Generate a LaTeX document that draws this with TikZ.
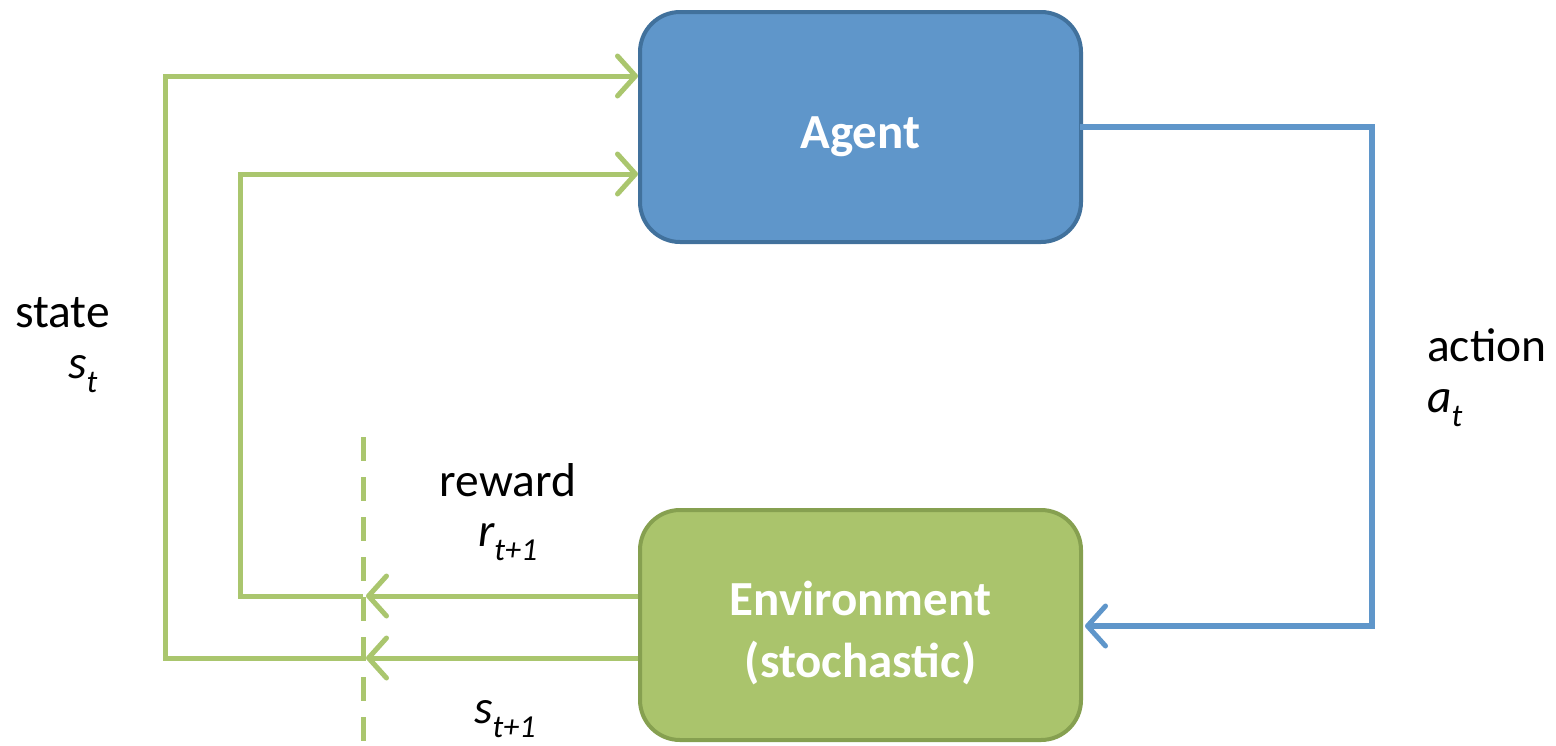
\documentclass[tikz,border=0pt]{standalone}
\usepackage{fontspec}
\setmainfont{Carlito}
\usetikzlibrary{arrows.meta}
\definecolor{agentfill}{HTML}{5F96CA}
\definecolor{agentdraw}{HTML}{41719C}
\definecolor{envfill}{HTML}{AAC46C}
\definecolor{envdraw}{HTML}{86A050}
\definecolor{gline}{HTML}{AAC66E}
\definecolor{bline}{HTML}{5F96CA}
\newcommand{\lbl}{\fontsize{47.5}{57}\selectfont}
\newcommand{\blbl}{\fontsize{49}{59}\selectfont}
\newcommand{\sub}[1]{\raisebox{-0.28em}{\fontsize{32}{32}\selectfont\itshape #1}}
\tikzset{
  box/.style={draw, line width=4pt, rounded corners=40pt, minimum width=441pt, minimum height=230pt, inner sep=0pt},
  boxtext/.style={text=white, font=\blbl\bfseries, align=center, inner sep=0pt},
  gconn/.style={draw=gline, line width=5pt},
  bconn/.style={draw=bline, line width=6pt},
  barb/.style={-{Straight Barb[length=18pt,width=40pt,line width=5pt,round]}},
  lab/.style={font=\lbl, inner sep=0pt}
}
\begin{document}
\begin{tikzpicture}[x=1pt,y=-1pt]
\useasboundingbox (0,0) rectangle (1556,745);
\node[box, fill=agentfill, draw=agentdraw] (agent) at (860.5,127) {};
\node[box, fill=envfill, draw=envdraw] (env) at (860.5,625) {};
\node[boxtext] (agenttext) at ([yshift=-10pt]agent.center) {Agent};
\node[boxtext] (envtext) at ([yshift=-8pt]env.center) {Environment\\[3pt](stochastic)};
% coordinates
\coordinate (o1) at (165,76);
\coordinate (o2) at (165,658);
\coordinate (i1) at (240,174);
\coordinate (i2) at (240,596);
\coordinate (d1) at (363,596);
\coordinate (d2) at (363,658);
\coordinate (dtop) at (363,437);
\coordinate (dbot) at (363,745);
\coordinate (b1) at (1372,127);
\coordinate (b2) at (1372,626);
% dashed divider
\draw[draw=gline, line width=5pt, dash pattern=on 24pt off 16pt] (dtop) -- (dbot);
% state loops
\draw[gconn, barb] (d2) -- (o2) -- (o1) -- (agent.west |- o1);
\draw[gconn, barb] (d1) -- (i2) -- (i1) -- (agent.west |- i1);
\draw[gconn, barb] (env.west |- d1) -- ([xshift=3pt]d1);
\draw[gconn, barb] (env.west |- d2) -- ([xshift=3pt]d2);
% action
\draw[bconn, barb, line cap=rect] (agent.east |- b1) -- (b1) -- (b2) -- ([xshift=2pt]env.east |- b2);
% labels
\node[lab, anchor=west] (state) at (15,313) {state};
\node[lab, anchor=west] (st) at (68,374) {\itshape s\sub{t}};
\node[lab, anchor=west] (action) at (1427,345) {action};
\node[lab, anchor=west] (at) at (1427,408) {\itshape a\sub{t}};
\node[lab] (reward) at (508,480) {reward};
\node[lab, anchor=west] (rt) at (478,542) {\itshape r\sub{t+1}};
\node[lab, anchor=west] (st1) at (474,719) {\itshape s\sub{t+1}};
\end{tikzpicture}
\end{document}
